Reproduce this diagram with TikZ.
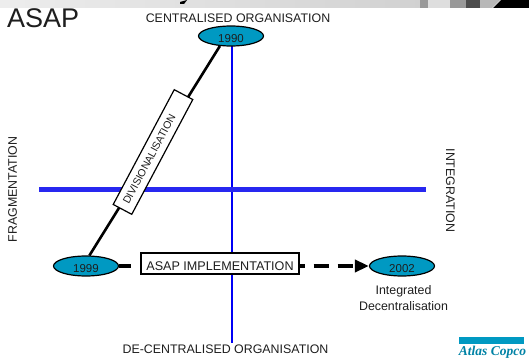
\documentclass[tikz,border=0pt]{standalone}
\usepackage{fontspec}
\setmainfont{Liberation Sans}
\newfontfamily\logofont{Liberation Serif}
\usetikzlibrary{shapes.geometric,arrows.meta,shadings}
\definecolor{teal1}{RGB}{0,153,194}
\definecolor{axisblue}{RGB}{0,0,245}
\definecolor{haxisblue}{RGB}{40,40,240}
\definecolor{txt}{RGB}{30,30,30}
\tikzset{
  x=1pt,y=-1pt,
  yearnode/.style={ellipse,draw=black,line width=1.2pt,fill=teal1,minimum width=65pt,minimum height=20pt,inner sep=0pt,text height=12.2pt,text depth=0pt,font=\fontsize{11.5}{13}\selectfont,text=txt},
  vaxis/.style={draw=axisblue,line width=2.8pt},
  haxis/.style={draw=haxisblue,line width=4.6pt},
  labelbox/.style={draw=black,fill=white,line width=1.2pt,inner sep=0pt,text=txt},
  lbl/.style={inner sep=0pt,text=txt,font=\fontsize{12.4}{15.5}\selectfont},
  dashline/.style={line width=4.5pt},
}
\begin{document}
\begin{tikzpicture}
\useasboundingbox (0,0) rectangle (529,358);
% banner
\shade[left color=white!93!black,right color=white!82!black] (0,0) rectangle (420,8);
\fill[white!60!black] (420,0) rectangle (428,8);
\fill[white!87!black] (428,0) rectangle (450,8);
\fill[white!60!black] (450,0) rectangle (466,8);
\fill[white!30!black] (466,0) rectangle (480,8);
\fill[white!72!black] (480,8) -- (492,8) -- (500,0) -- (480,0) -- cycle;
\fill[black] (493,8) -- (501,0) -- (529,0) -- (529,8) -- cycle;
\fill[black] (180,2) -- (187,0) -- (184,4) -- (180,4) -- cycle;
% axes
\coordinate (vtop) at (232,30);
\coordinate (vbot) at (232,343);
\coordinate (hl) at (39,189.4);
\coordinate (hr) at (426,189.4);
\path[vaxis] (vtop) -- (vbot);
\path[haxis] (hl) -- (hr);
% nodes
\node[yearnode] (y90) at (231,36) {1990};
\node[yearnode] (y99) at (86,266) {1999};
\node[yearnode] (y02) at (402,266) {2002};
\node[labelbox,minimum width=158pt,minimum height=21pt,text height=13pt,text depth=0pt,font=\fontsize{12.6}{14}\selectfont] (impl) at (220,263.5) {ASAP IMPLEMENTATION};
\draw[line width=2.6pt] (y90.-138) -- (y99.72);
\draw[dashline,dash pattern=on 12pt off 9pt] (y99.east) -- (impl.west |- y99.east);
\draw[dashline,dash pattern=on 15pt off 9pt,dash phase=10pt,-{Triangle[length=14pt,width=12pt]}] (impl.east |- y02.west) -- (y02.west);
\node[labelbox,rotate=62,minimum width=130pt,minimum height=21pt,font=\fontsize{10.5}{12}\selectfont] (div) at (153,152) {DIVISIONALISATION\hspace*{16pt}};
% texts
\node[lbl,anchor=west,font=\fontsize{27}{30}\selectfont] (asap) at (7,18) {ASAP};
\node[lbl] (c) at (238,18) {CENTRALISED ORGANISATION};
\node[lbl] (d) at (225.5,349.5) {DE-CENTRALISED ORGANISATION};
\node[lbl,rotate=90] (f) at (12.5,189.5) {FRAGMENTATION};
\node[lbl,rotate=-90] (i) at (450.5,190.5) {INTEGRATION};
\node[lbl,align=center] (n) at (403.5,298) {Integrated\\Decentralisation};
% logo
\fill[teal1] (459,337) rectangle (524,344);
\node[inner sep=0pt,text=teal1!85!black,font=\fontsize{13.5}{14}\selectfont\logofont\itshape\bfseries] (logo) at (492.5,352) {Atlas Copco};
\end{tikzpicture}
\end{document}
